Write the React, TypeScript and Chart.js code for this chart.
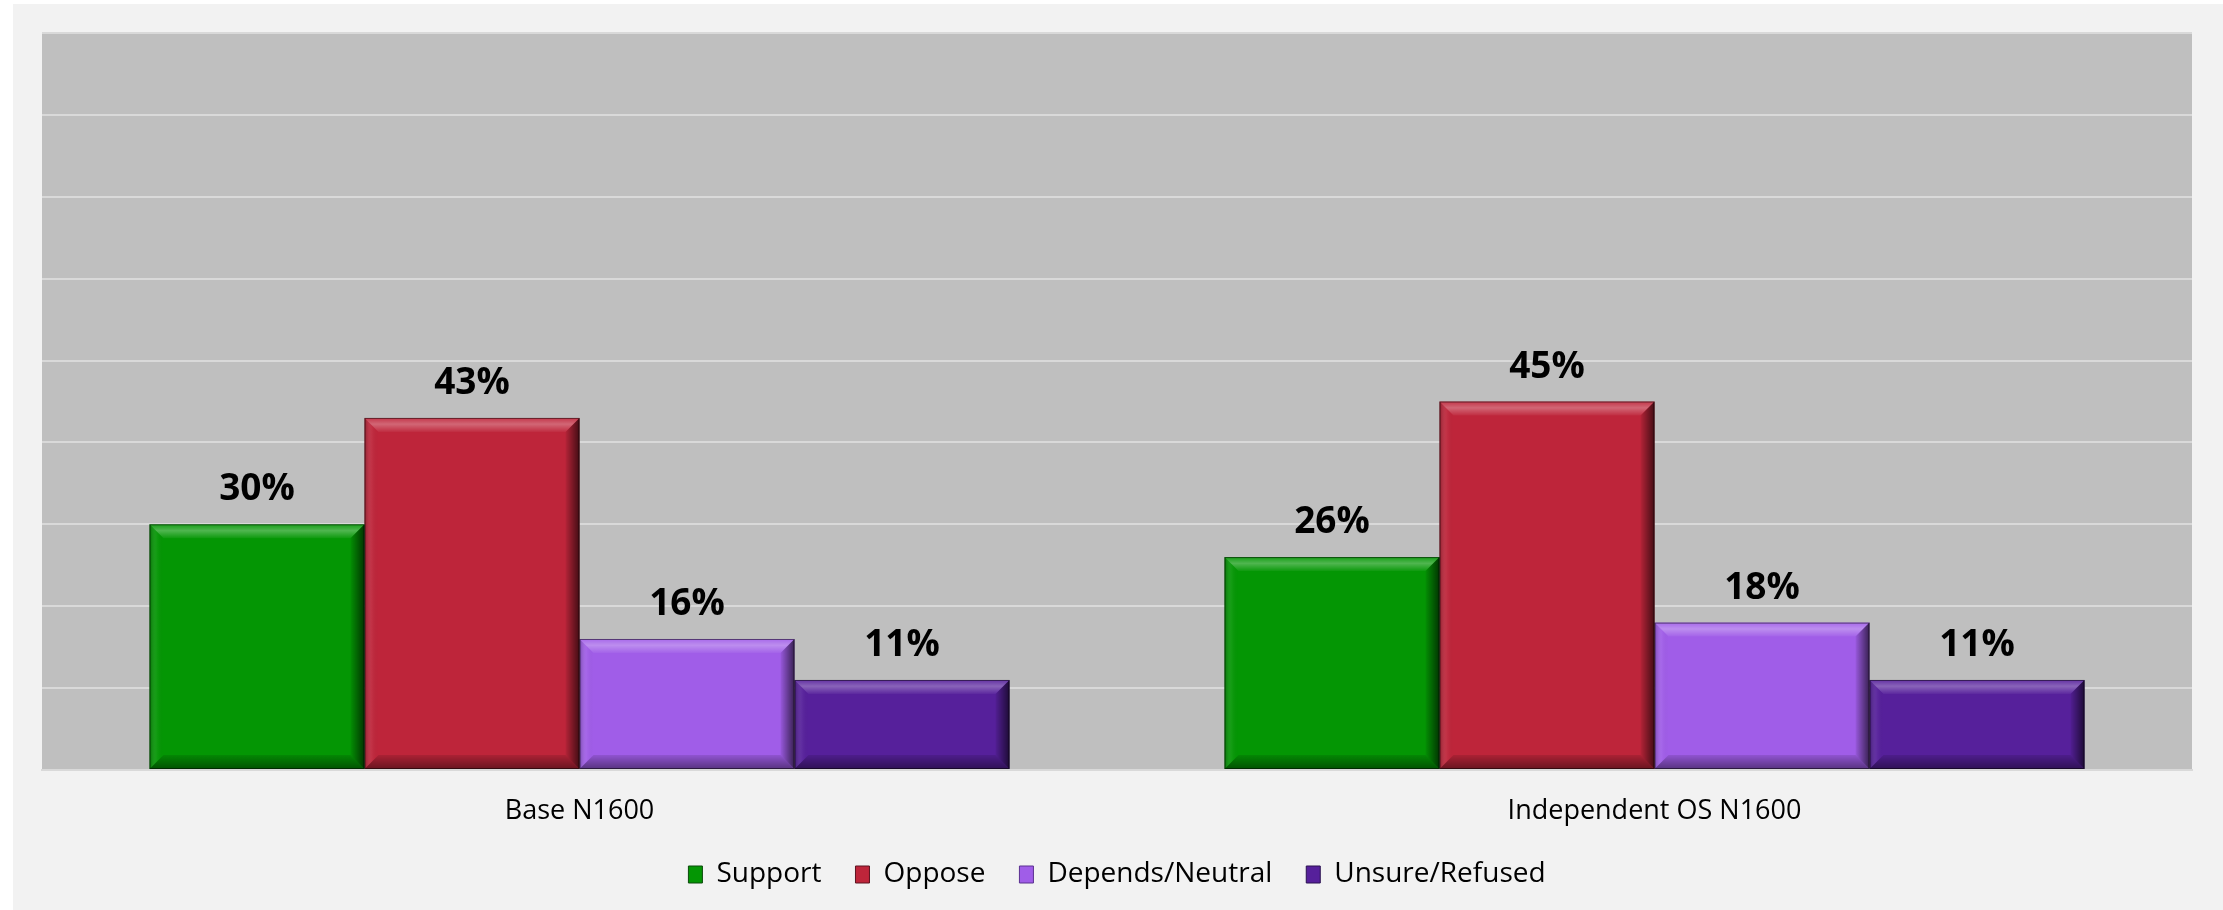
import React, { useEffect, useRef } from "react";
import { Chart, registerables } from "chart.js";

Chart.register(...registerables);

const categories = ["Base N1600", "Independent OS N1600"];
const seriesNames = ["Support", "Oppose", "Depends/Neutral", "Unsure/Refused"];
const supportValues = [30, 26];
const opposeValues = [43, 45];
const dependsValues = [16, 18];
const unsureValues = [11, 11];
const yMax = 90;
const yStep = 10;

const fillColors = ["#049604", "#be253a", "#a05de8", "#56209b"];
const edgeColors = ["#0b4a0b", "#5c1420", "#5a3090", "#2a1050"];

const FONT = "'Open Sans', 'Noto Sans', sans-serif";

function poly(ctx: CanvasRenderingContext2D, pts: number[][], fill: any) {
  ctx.beginPath();
  ctx.moveTo(pts[0][0], pts[0][1]);
  for (let i = 1; i < pts.length; i++) ctx.lineTo(pts[i][0], pts[i][1]);
  ctx.closePath();
  ctx.fillStyle = fill;
  ctx.fill();
}

const backgroundPlugin = {
  id: "bgPlugin",
  beforeDraw(chart: any) {
    const { ctx, chartArea } = chart;
    ctx.save();
    ctx.fillStyle = "#f2f2f2";
    ctx.fillRect(0, 0, chart.width, chart.height);
    ctx.fillStyle = "#bfbfbf";
    ctx.fillRect(chartArea.left, chartArea.top, chartArea.right - chartArea.left, chartArea.bottom - chartArea.top);
    ctx.restore();
  },
};

const bevelPlugin = {
  id: "bevelPlugin",
  afterDatasetsDraw(chart: any) {
    const ctx: CanvasRenderingContext2D = chart.ctx;
    chart.data.datasets.forEach((_ds: any, di: number) => {
      const meta = chart.getDatasetMeta(di);
      meta.data.forEach((bar: any) => {
        const { x, y, base, width } = bar.getProps(["x", "y", "base", "width"], true);
        const l = x - width / 2;
        const r = x + width / 2;
        const t = Math.min(y, base);
        const b = Math.max(y, base);
        const s = Math.min(14, (b - t) / 2, width / 2);
        ctx.save();
        let g = ctx.createLinearGradient(0, t, 0, t + s);
        g.addColorStop(0, "rgba(255,255,255,0.08)");
        g.addColorStop(0.45, "rgba(255,255,255,0.3)");
        g.addColorStop(1, "rgba(255,255,255,0.04)");
        poly(ctx, [[l, t], [r, t], [r - s, t + s], [l + s, t + s]], g);
        g = ctx.createLinearGradient(r - s, 0, r, 0);
        g.addColorStop(0, "rgba(0,0,0,0.05)");
        g.addColorStop(1, "rgba(0,0,0,0.65)");
        poly(ctx, [[r, t], [r, b], [r - s, b - s], [r - s, t + s]], g);
        g = ctx.createLinearGradient(0, b - s, 0, b);
        g.addColorStop(0, "rgba(0,0,0,0.1)");
        g.addColorStop(1, "rgba(0,0,0,0.45)");
        poly(ctx, [[l, b], [r, b], [r - s, b - s], [l + s, b - s]], g);
        g = ctx.createLinearGradient(l, 0, l + s, 0);
        g.addColorStop(0, "rgba(0,0,0,0.25)");
        g.addColorStop(0.5, "rgba(255,255,255,0.06)");
        g.addColorStop(1, "rgba(0,0,0,0)");
        poly(ctx, [[l, t], [l + s, t + s], [l + s, b - s], [l, b]], g);
        ctx.strokeStyle = "rgba(0,0,0,0.5)";
        ctx.lineWidth = 1;
        ctx.strokeRect(l + 0.5, t + 0.5, width - 1, b - t - 1);
        ctx.restore();
      });
    });
  },
};

const valueLabelPlugin = {
  id: "valueLabels",
  afterDatasetsDraw(chart: any) {
    const ctx: CanvasRenderingContext2D = chart.ctx;
    ctx.save();
    ctx.font = `bold 37px ${FONT}`;
    ctx.fillStyle = "#000";
    ctx.textAlign = "center";
    ctx.textBaseline = "alphabetic";
    chart.data.datasets.forEach((ds: any, di: number) => {
      const meta = chart.getDatasetMeta(di);
      meta.data.forEach((bar: any, idx: number) => {
        const { x, y } = bar.getProps(["x", "y"], true);
        ctx.fillText(`${ds.data[idx]}%`, x, y - 24);
      });
    });
    ctx.restore();
  },
};

export default function App() {
  const canvasRef = useRef<HTMLCanvasElement | null>(null);

  useEffect(() => {
    if (!canvasRef.current) return;
    const seriesData = [supportValues, opposeValues, dependsValues, unsureValues];
    const chart = new Chart(canvasRef.current, {
      type: "bar",
      data: {
        labels: categories,
        datasets: seriesNames.map((name, i) => ({
          label: name,
          data: seriesData[i],
          backgroundColor: fillColors[i],
          borderColor: edgeColors[i],
          borderWidth: 0,
          categoryPercentage: 0.8,
          barPercentage: 1.0,
        })),
      },
      options: {
        responsive: false,
        animation: false,
        devicePixelRatio: 1,
        layout: { padding: { left: 29, right: 31, top: 29, bottom: 11.5 } },
        plugins: {
          tooltip: { enabled: false },
          title: { display: false },
          legend: {
            display: true,
            position: "bottom",
            labels: {
              boxWidth: 14,
              boxHeight: 17,
              padding: 34,
              color: "#000",
              font: { family: FONT, size: 28 },
              generateLabels: (ch: any) =>
                ch.data.datasets.map((ds: any, i: number) => ({
                  text: ds.label,
                  fillStyle: ds.backgroundColor,
                  strokeStyle: edgeColors[i],
                  lineWidth: 1,
                  fontColor: "#000",
                  hidden: false,
                  datasetIndex: i,
                })),
            },
          },
        },
        scales: {
          x: {
            grid: { display: false, drawTicks: false },
            border: { display: true, color: "#d9d9d9", width: 2 },
            ticks: {
              color: "#000",
              padding: 25,
              font: { family: FONT, size: 27 },
            },
            afterFit: (scale: any) => {
              scale.height = 56.5;
            },
          },
          y: {
            min: 0,
            max: yMax,
            ticks: { display: false, stepSize: yStep },
            grid: { color: "#d9d9d9", lineWidth: 2, drawTicks: false },
            border: { display: false },
            afterFit: (scale: any) => {
              scale.width = 0;
            },
          },
        },
      },
      plugins: [backgroundPlugin, bevelPlugin, valueLabelPlugin],
    } as any);
    return () => chart.destroy();
  }, []);

  return (
    <div style={{ position: "absolute", left: 0, top: 0, width: 2223, height: 910, background: "#ffffff" }}>
      <div
        style={{
          position: "absolute",
          left: 13,
          top: 4,
          width: 2210,
          height: 906,
          overflow: "hidden",
          background: "#f2f2f2",
        }}
      >
        <canvas ref={canvasRef} width={2210} height={906} style={{ display: "block" }} />
      </div>
    </div>
  );
}
